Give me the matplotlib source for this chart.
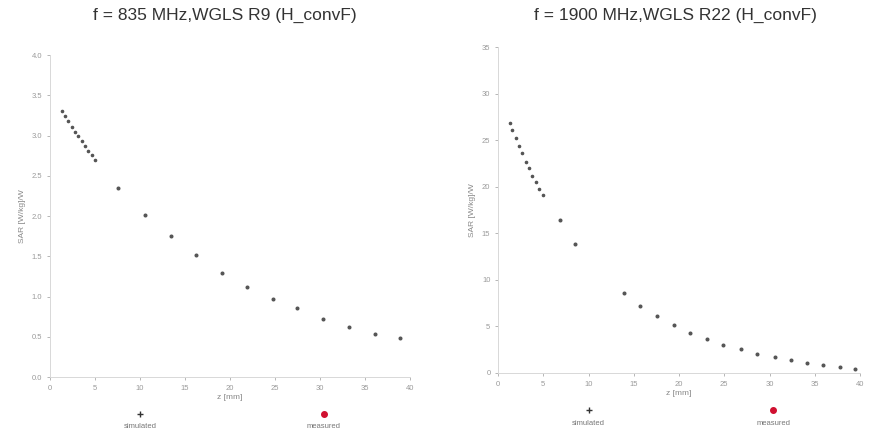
import matplotlib
matplotlib.use("Agg")
import matplotlib.pyplot as plt

plt.rcParams['font.family'] = ['Liberation Sans', 'DejaVu Sans']

# ---- data: 835 MHz ----
z835_dense = [1.3, 1.67, 2.04, 2.41, 2.78, 3.15, 3.52, 3.89, 4.26, 4.63, 5.0]
sar835_dense = [3.30, 3.24, 3.18, 3.11, 3.05, 2.99, 2.93, 2.87, 2.81, 2.76, 2.70]
z835 = [7.6, 10.6, 13.4, 16.2, 19.1, 21.9, 24.8, 27.5, 30.3, 33.2, 36.1, 38.9]
sar835 = [2.35, 2.01, 1.75, 1.52, 1.29, 1.12, 0.97, 0.86, 0.72, 0.62, 0.53, 0.48]

# ---- data: 1900 MHz ----
z1900_dense = [1.33, 1.58, 1.96, 2.32, 2.69, 3.06, 3.43, 3.79, 4.17, 4.56, 5.0]
sar1900_dense = [26.8, 26.1, 25.2, 24.4, 23.6, 22.7, 22.0, 21.2, 20.5, 19.8, 19.1]
z1900 = [6.85, 8.51, 13.96, 15.69, 17.54, 19.45, 21.22, 23.06, 24.90, 26.85,
         28.59, 30.61, 32.34, 34.11, 35.94, 37.79, 39.45]
sar1900 = [16.4, 13.9, 8.63, 7.20, 6.12, 5.16, 4.26, 3.62, 3.01, 2.55,
           2.04, 1.75, 1.40, 1.11, 0.86, 0.68, 0.43]

xticks = [0, 5, 10, 15, 20, 25, 30, 35, 40]
yticks835 = [0.0, 0.5, 1.0, 1.5, 2.0, 2.5, 3.0, 3.5, 4.0]
yticks1900 = [0, 5, 10, 15, 20, 25, 30, 35]
titles = ["f = 835 MHz,WGLS R9 (H_convF)", "f = 1900 MHz,WGLS R22 (H_convF)"]
legend_labels = ["simulated", "measured"]

fig = plt.figure(figsize=(8.71, 4.32), dpi=100)
ax1 = fig.add_axes([0.0574, 0.1273, 0.4133, 0.745])
ax2 = fig.add_axes([0.5718, 0.1366, 0.4156, 0.7546])

pt_color = '#555555'
tick_color = '#9a9a9a'

def style(ax, yticks, yfmt):
    ax.set_xlim(0, 40)
    ax.set_ylim(yticks[0], yticks[-1])
    ax.set_xticks(xticks)
    ax.set_xticklabels([str(t) for t in xticks])
    ax.set_yticks(yticks)
    ax.set_yticklabels([yfmt.format(t) for t in yticks])
    ax.tick_params(axis='both', labelsize=5.5, colors=tick_color, length=2, width=0.5)
    for s in ['top', 'right']:
        ax.spines[s].set_visible(False)
    for s in ['left', 'bottom']:
        ax.spines[s].set_color('#d8d8d8')
        ax.spines[s].set_linewidth(0.7)
    ax.set_xlabel("z [mm]", fontsize=6, color='#888888', labelpad=2)
    ax.set_ylabel("SAR [W/kg]/W", fontsize=6, color='#888888', labelpad=4)

title_x = [225 / 871, 675 / 871]
for i, (ax, zd, sd, z, s, yt, fmt) in enumerate([
        (ax1, z835_dense, sar835_dense, z835, sar835, yticks835, "{:.1f}"),
        (ax2, z1900_dense, sar1900_dense, z1900, sar1900, yticks1900, "{:d}")]):
    ax.plot(zd, sd, linestyle='none', marker='o', markersize=1.6, color=pt_color)
    ax.plot(z, s, linestyle='none', marker='o', markersize=1.9, color=pt_color)
    style(ax, yt, fmt)
    fig.text(title_x[i], 1 - 15 / 432, titles[i], ha='center', va='center',
             fontsize=12.5, color='#333333')
    # legend below the axes: marker above label
    for xa, lab, mk, col in [(0.25, legend_labels[0], '+', '#333333'),
                             (0.76, legend_labels[1], 'o', '#d01030')]:
        ax.plot([xa], [-0.115], transform=ax.transAxes, clip_on=False,
                marker=mk, markersize=4, color=col, linestyle='none')
        ax.text(xa, -0.155, lab, transform=ax.transAxes, ha='center', va='center',
                fontsize=5.5, color='#777777')

fig.savefig("out.png", dpi=100, facecolor='white')
